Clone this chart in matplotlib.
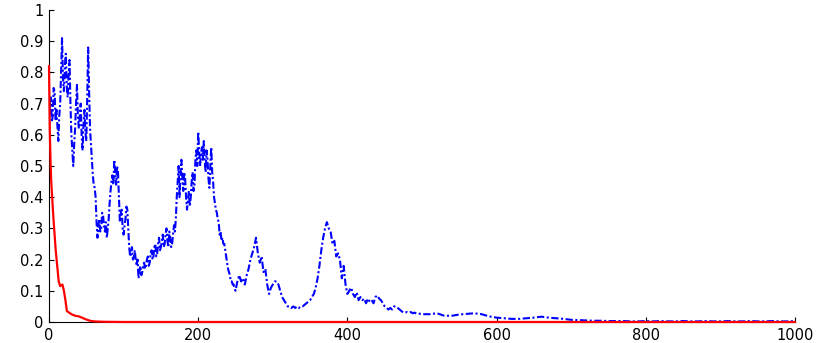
import numpy as np
import matplotlib
matplotlib.use('Agg')
import matplotlib.pyplot as plt

## DATA ##########################
# blue trace, noisy part read every 1.25 units from 0 to 250
blue_a = [0.62, 0.70, 0.72, 0.64, 0.66, 0.75, 0.74, 0.65, 0.68,
          0.63, 0.58, 0.66, 0.70, 0.80, 0.91, 0.78, 0.74, 0.82, 0.86, 0.76, 0.72, 0.79, 0.84, 0.70, 0.60,
          0.55, 0.50, 0.57, 0.62, 0.70, 0.76, 0.66, 0.62, 0.66, 0.70, 0.60, 0.55, 0.63, 0.68, 0.61, 0.58,
          0.72, 0.88, 0.74, 0.62, 0.57, 0.52, 0.47, 0.44, 0.43, 0.40, 0.32, 0.27, 0.31, 0.33, 0.29, 0.30,
          0.35, 0.34, 0.31, 0.29, 0.32, 0.27, 0.30, 0.33, 0.38, 0.42, 0.45, 0.47, 0.44, 0.52, 0.48, 0.44,
          0.50, 0.48, 0.40, 0.32, 0.35, 0.36, 0.30, 0.28, 0.31, 0.33, 0.37, 0.36, 0.30, 0.24, 0.21, 0.22,
          0.24, 0.20, 0.21, 0.23, 0.20, 0.18, 0.20, 0.14, 0.16, 0.18, 0.15, 0.16, 0.18, 0.19, 0.17, 0.18,
          0.20, 0.21, 0.18, 0.19, 0.22, 0.23, 0.20, 0.21, 0.24, 0.25, 0.21, 0.22, 0.25, 0.27, 0.23, 0.24,
          0.26, 0.28, 0.24, 0.25, 0.28, 0.30, 0.26, 0.24, 0.29, 0.27, 0.24, 0.25, 0.28, 0.31, 0.29, 0.33,
          0.40, 0.45, 0.50, 0.40, 0.47, 0.52, 0.46, 0.42, 0.48, 0.46, 0.40, 0.36, 0.39, 0.42, 0.37, 0.40,
          0.45, 0.48, 0.42, 0.44, 0.52, 0.55, 0.50, 0.61, 0.55, 0.50, 0.54, 0.56, 0.52, 0.58, 0.52, 0.48,
          0.55, 0.52, 0.46, 0.43, 0.50, 0.56, 0.48, 0.45, 0.40, 0.38, 0.36, 0.35, 0.33, 0.32, 0.28, 0.29,
          0.26, 0.27, 0.25, 0.25, 0.23, 0.21, 0.19, 0.17, 0.16, 0.15, 0.13, 0.13, 0.12, 0.12, 0.11, 0.10]
# blue trace, every 2.5 units from 252.5 to 500
blue_b = [0.13, 0.15, 0.13, 0.14, 0.12, 0.15, 0.17, 0.20,
          0.22, 0.24, 0.27, 0.22, 0.19, 0.21, 0.16, 0.17,
          0.12, 0.09, 0.11, 0.12, 0.13, 0.13, 0.12, 0.10,
          0.08, 0.07, 0.06, 0.05, 0.05, 0.045, 0.05, 0.045,
          0.05, 0.045, 0.05, 0.05, 0.055, 0.06, 0.065, 0.07,
          0.08, 0.09, 0.11, 0.14, 0.18, 0.23, 0.27, 0.30,
          0.32, 0.30, 0.29, 0.25, 0.26, 0.21, 0.22, 0.20,
          0.14, 0.18, 0.12, 0.09, 0.10, 0.11, 0.09, 0.08,
          0.095, 0.07, 0.08, 0.07, 0.075, 0.06, 0.075, 0.065,
          0.07, 0.06, 0.08, 0.085, 0.075, 0.07, 0.06, 0.05,
          0.045, 0.04, 0.045, 0.04, 0.05, 0.05, 0.045, 0.04,
          0.035, 0.03, 0.03, 0.032, 0.03, 0.032, 0.028, 0.03,
          0.027, 0.028, 0.026, 0.025]
# blue tail, every 10 units from 510 to 1000
blue_c = [0.025, 0.028, 0.020, 0.020, 0.024, 0.026, 0.028, 0.025, 0.018, 0.014,
          0.012, 0.010, 0.010, 0.012, 0.014, 0.017, 0.014, 0.012, 0.010, 0.007,
          0.006, 0.005, 0.004, 0.004, 0.003, 0.003, 0.003, 0.002, 0.002, 0.003,
          0.002, 0.003, 0.002, 0.002, 0.003, 0.002, 0.002, 0.003, 0.002, 0.002,
          0.003, 0.002, 0.002, 0.003, 0.002, 0.002, 0.003, 0.002, 0.002, 0.003]

red_x = [0, 1, 2, 3, 4.5, 6, 7.5, 9, 11, 13, 15, 18, 20, 22, 24, 27, 30,
         35, 40, 46, 50, 55, 60, 70, 80, 100, 1000]
red_y = [0.82, 0.62, 0.52, 0.45, 0.39, 0.33, 0.28, 0.23, 0.18, 0.13, 0.115,
         0.12, 0.10, 0.07, 0.035, 0.03, 0.025, 0.02, 0.018, 0.012, 0.008,
         0.004, 0.002, 0.001, 0.0005, 0, 0]

x_ticks = [0, 200, 400, 600, 800, 1000]
y_ticks = [0, 0.1, 0.2, 0.3, 0.4, 0.5, 0.6, 0.7, 0.8, 0.9, 1]
y_labels = ['0', '0.1', '0.2', '0.3', '0.4', '0.5', '0.6', '0.7', '0.8', '0.9', '1']
##################################

blue_x = np.concatenate((np.linspace(0, 250, len(blue_a)),
                         np.linspace(252.5, 500, len(blue_b)),
                         np.linspace(510, 1000, len(blue_c))))
blue_y = np.array(blue_a + blue_b + blue_c)

plt.rcParams['font.family'] = ['DejaVu Sans']

fig = plt.figure(figsize=(8.19, 3.43), dpi=100)
ax = fig.add_axes([49/819., 21/343., 746/819., 312/343.])

ax.plot(blue_x, blue_y, color='#0000ff', linewidth=1.5,
        dashes=(3.5, 1.2, 1, 1.2))
ax.plot(red_x, red_y, color='#ff0000', linewidth=1.6, clip_on=False, zorder=5)

ax.set_xlim(0, 1000)
ax.set_ylim(0, 1)
ax.set_xticks(x_ticks)
ax.set_yticks(y_ticks)
ax.set_yticklabels(y_labels)

ax.spines['top'].set_visible(False)
ax.spines['right'].set_visible(False)
ax.spines['left'].set_linewidth(0.8)
ax.spines['bottom'].set_linewidth(0.8)
ax.tick_params(direction='in', length=3.5, width=0.8, labelsize=10.5, pad=4)

fig.savefig('out.png', dpi=100)
